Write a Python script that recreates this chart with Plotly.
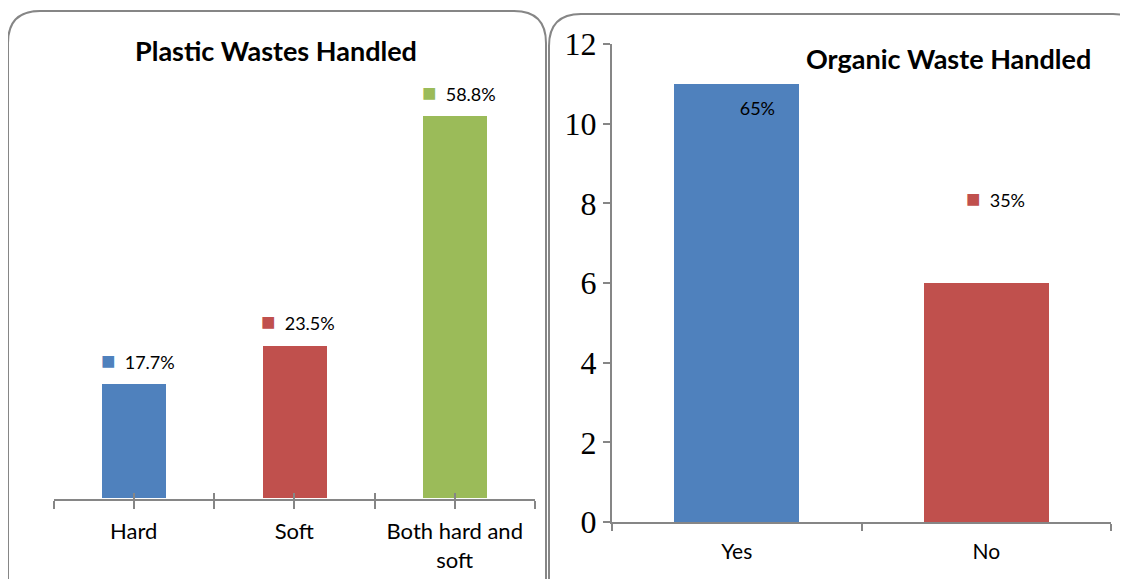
import plotly.graph_objects as go

# ---------------- data ----------------
plastic_categories = ["Hard", "Soft", "Both hard and<br>soft"]
plastic_counts = [3, 4, 10]
plastic_labels = ["17.7%", "23.5%", "58.8%"]

organic_categories = ["Yes", "No"]
organic_counts = [11, 6]
organic_labels = ["65%", "35%"]

# ---------------- styles ----------------
W, H = 1128, 579
OFF = 8  # page body margin
BLUE, RED, GREEN = "#4F81BD", "#C0504D", "#9BBB59"
plastic_colors = [BLUE, RED, GREEN]
organic_colors = [BLUE, RED]
AXIS = "#868686"
SANS = "Lato, 'Open Sans', sans-serif"
SERIF = "'Liberation Serif', 'Times New Roman', serif"


def px(x):
    return (x - OFF) / W


def py(y):
    return 1 - (y - OFF) / H


fig = go.Figure()

idx1 = list(range(len(plastic_categories)))
idx2 = list(range(len(organic_categories)))

fig.add_trace(go.Bar(x=idx1, y=plastic_counts, marker_color=plastic_colors,
                     width=0.4, xaxis="x", yaxis="y", hoverinfo="skip",
                     marker_line_width=0))
fig.add_trace(go.Bar(x=idx2, y=organic_counts, marker_color=organic_colors,
                     width=0.5, xaxis="x2", yaxis="y2", hoverinfo="skip",
                     marker_line_width=0))
# invisible trace to carry the upper half of the crossing ticks on the left axis
fig.add_trace(go.Scatter(x=idx1, y=plastic_counts, xaxis="x3", yaxis="y",
                         mode="markers", marker=dict(opacity=0), hoverinfo="skip"))

annotations = []
# titles
annotations.append(dict(text="<b>Plastic Wastes Handled</b>", xref="paper", yref="paper",
                        x=px(276), y=py(50), xanchor="center", yanchor="middle",
                        showarrow=False, font=dict(family=SANS, size=27, color="black")))
annotations.append(dict(text="<b>Organic Waste Handled</b>", xref="paper", yref="paper",
                        x=px(948), y=py(58), xanchor="center", yanchor="middle",
                        showarrow=False, font=dict(family=SANS, size=27, color="black")))

# data labels with legend key squares
for i, (v, lab, c) in enumerate(zip(plastic_counts, plastic_labels, plastic_colors)):
    annotations.append(dict(
        text=f"<span style='color:{c};font-size:24px'>■</span>  {lab}",
        x=i, y=v, xref="x", yref="y", yshift=25, xshift=4, showarrow=False,
        xanchor="center", yanchor="middle",
        font=dict(family=SANS, size=18, color="black")))

organic_label_yshift = [-22, 86]
for i, (v, lab, c) in enumerate(zip(organic_counts, organic_labels, organic_colors)):
    annotations.append(dict(
        text=f"<span style='color:{c};font-size:24px'>■</span>  {lab}",
        x=i, y=v, xref="x2", yref="y2", yshift=organic_label_yshift[i], xshift=9,
        xanchor="center", yanchor="middle",
        showarrow=False, font=dict(family=SANS, size=18, color="black")))

# rounded panel borders
r = 32
left_path = (f"M {px(8)},{py(620)} L {px(8)},{py(11 + r)} Q {px(8)},{py(11)} {px(8 + r)},{py(11)} "
             f"L {px(546 - r)},{py(11)} Q {px(546)},{py(11)} {px(546)},{py(11 + r)} L {px(546)},{py(620)}")
right_path = (f"M {px(549)},{py(620)} L {px(549)},{py(14 + r)} Q {px(549)},{py(14)} {px(549 + r)},{py(14)} "
              f"L {px(1145 - r)},{py(14)} Q {px(1145)},{py(14)} {px(1145)},{py(14 + r)} L {px(1145)},{py(620)}")
shapes = [
    dict(type="path", path=left_path, xref="paper", yref="paper",
         line=dict(color=AXIS, width=2), layer="below"),
    dict(type="path", path=right_path, xref="paper", yref="paper",
         line=dict(color=AXIS, width=2), layer="below"),
]

left_domain = [px(53.5), px(535)]
left_range = [-0.5, len(idx1) - 0.5]

fig.update_layout(
    width=W, height=H, autosize=False,
    margin=dict(l=0, r=0, t=0, b=0),
    paper_bgcolor="white", plot_bgcolor="rgba(0,0,0,0)",
    showlegend=False, bargap=0,
    annotations=annotations, shapes=shapes,
    xaxis=dict(domain=left_domain, range=left_range,
               tickmode="array", tickvals=idx1, ticktext=plastic_categories,
               ticks="outside", ticklen=12, tickwidth=2, tickcolor="rgba(0,0,0,0)",
               minor=dict(ticks="outside", ticklen=8, tickwidth=2, tickcolor=AXIS,
                          tickmode="linear", tick0=-0.5, dtick=0.5, showgrid=False),
               showline=True, linecolor=AXIS, linewidth=2, showgrid=False,
               zeroline=False, automargin=False,
               tickfont=dict(family=SANS, size=22, color="black"), anchor="y"),
    xaxis3=dict(domain=left_domain, range=left_range, overlaying="x", anchor="y",
                side="bottom", tickmode="linear", tick0=-0.5, dtick=0.5,
                ticks="inside", ticklen=6, tickwidth=2, tickcolor=AXIS,
                showticklabels=False, showline=False, showgrid=False,
                zeroline=False, automargin=False),
    yaxis=dict(domain=[py(498.7), py(40.3)], range=[0, 12], visible=False,
               anchor="x"),
    xaxis2=dict(domain=[px(612), px(1111)], range=[-0.5, len(idx2) - 0.5],
                tickmode="array", tickvals=idx2, ticktext=organic_categories,
                ticks="outside", ticklen=10, tickcolor="rgba(0,0,0,0)",
                minor=dict(ticks="outside", ticklen=7, tickwidth=2, tickcolor=AXIS,
                           tickmode="linear", tick0=-0.5, dtick=1, showgrid=False),
                showline=True, linecolor=AXIS, linewidth=2, showgrid=False,
                zeroline=False, automargin=False,
                tickfont=dict(family=SANS, size=21, color="black"), anchor="y2"),
    yaxis2=dict(domain=[py(522), py(44)], range=[0, 12], tickmode="linear",
                tick0=0, dtick=2, ticks="outside", ticklen=7, tickwidth=2,
                tickcolor=AXIS, showline=True, linecolor=AXIS, linewidth=2,
                showgrid=False, zeroline=False, automargin=False,
                tickfont=dict(family=SERIF, size=32, color="black"), anchor="x2"),
)

fig.write_html("out.html")
